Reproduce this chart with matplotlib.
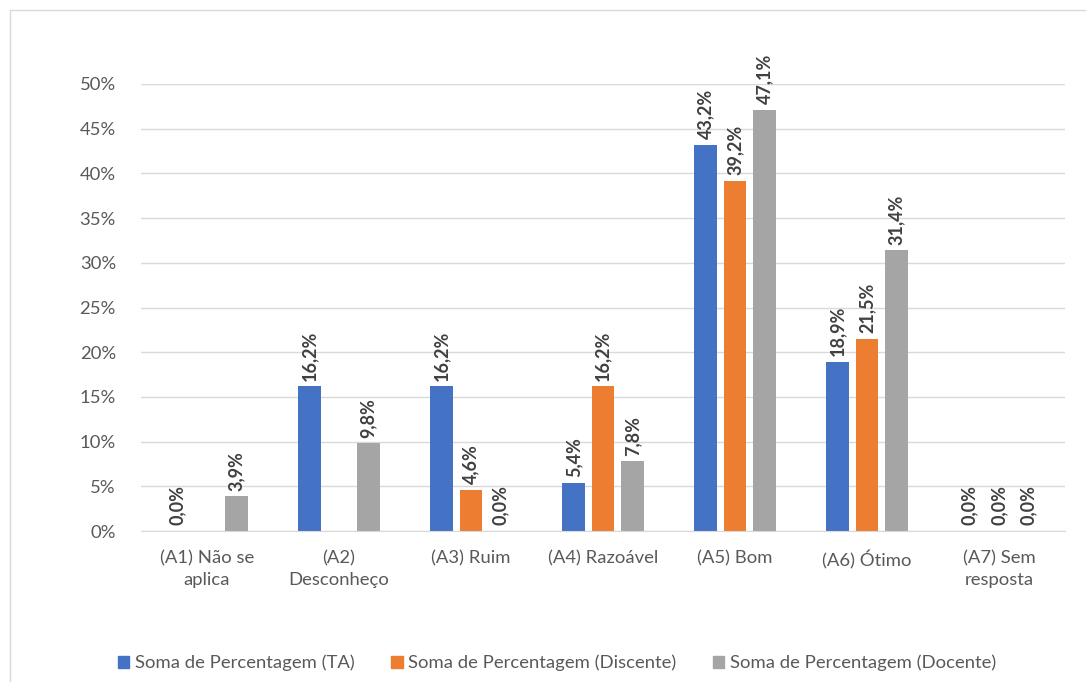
import matplotlib.pyplot as plt
from matplotlib.patches import Patch, Rectangle
import numpy as np

categories = ["(A1) Não se\naplica", "(A2)\nDesconheço", "(A3) Ruim", "(A4) Razoável",
              "(A5) Bom", "(A6) Ótimo", "(A7) Sem\nresposta"]
series_names = ["Soma de Percentagem (TA)", "Soma de Percentagem (Discente)",
                "Soma de Percentagem (Docente)"]
ta = [0.0, 16.2, 16.2, 5.4, 43.2, 18.9, 0.0]
discente = [np.nan, np.nan, 4.6, 16.2, 39.2, 21.5, 0.0]
docente = [3.9, 9.8, 0.0, 7.8, 47.1, 31.4, 0.0]
colors = ["#4472C4", "#ED7D31", "#A5A5A5"]

plt.rcParams['font.family'] = ['Lato', 'DejaVu Sans']

fig = plt.figure(figsize=(10.86, 6.82), dpi=100)
ax = fig.add_axes([141/1086, 1-531/682, 924/1086, 447/682])

# outer chart frame (cut off at right and bottom in the original)
fig.patches.append(Rectangle((10/1086, -0.1), 1.2, 1-10/682+0.1, transform=fig.transFigure,
                             fill=False, edgecolor="#D9D9D9", linewidth=1))

x = np.arange(len(categories))
width = 0.174
offset = 0.223
for i, (vals, col) in enumerate(zip([ta, discente, docente], colors)):
    pos = x + (i-1)*offset
    ax.bar(pos, vals, width, color=col, zorder=2)
    for p, v in zip(pos, vals):
        if np.isnan(v):
            continue
        ax.annotate(f"{v:.1f}%".replace(".", ","), (p, v),
                    xytext=(0, 4), textcoords="offset points", rotation=90,
                    ha="center", va="bottom", fontsize=13, fontweight="bold",
                    color="#404040")

ax.set_xlim(-0.5, len(categories)-0.5)
ax.set_ylim(0, 50)
ax.set_yticks(np.arange(0, 51, 5))
ax.set_yticklabels([f"{t}%" for t in range(0, 51, 5)])
ax.set_xticks(x)
ax.set_xticklabels(categories, linespacing=1.45)
ax.tick_params(axis="both", length=0, labelsize=13.3, labelcolor="#595959")
ax.tick_params(axis="y", pad=18)
ax.tick_params(axis="x", pad=14)
ax.grid(axis="y", color="#D9D9D9", linewidth=1, zorder=0)
for s in ["top", "right", "left"]:
    ax.spines[s].set_visible(False)
ax.spines["bottom"].set_color("#D9D9D9")

handles = [Patch(color=c) for c in colors]
fig.legend(handles, series_names, loc="center", bbox_to_anchor=(0.513, 1-663/682), ncol=3,
           frameon=False, fontsize=13.3, labelcolor="#595959", handlelength=0.6,
           handleheight=0.6, handletextpad=0.3, columnspacing=2.0)

fig.savefig("out.png", dpi=100)
